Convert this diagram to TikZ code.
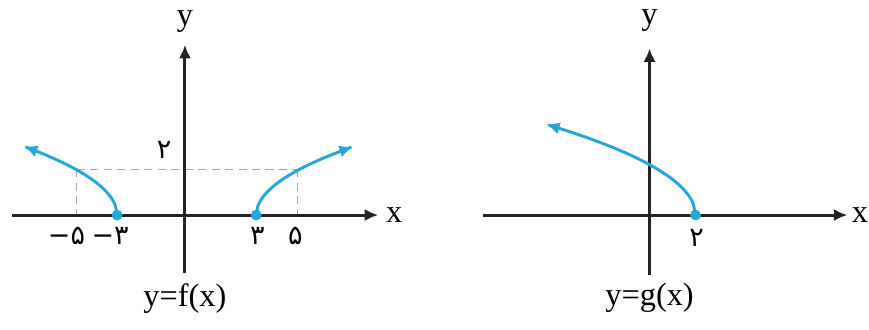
\documentclass[tikz,border=0pt]{standalone}
\usepackage{fontspec}
\setmainfont{Liberation Serif}
\newfontfamily\farsi[Script=Arabic]{DejaVu Sans}
\TeXXeTstate=1
\usepackage{xcolor}
\usepackage{tikz}
\usetikzlibrary{arrows.meta}
\usetikzlibrary{calc}
\definecolor{curvecyan}{RGB}{38,168,214}
\definecolor{axisgray}{RGB}{35,35,35}

\begin{document}
\begin{tikzpicture}[x=0.3cm, y=0.3cm, font=\fontsize{12}{14}\selectfont,
  axis/.style={draw=axisgray, line width=1.1pt, -{Latex[length=5pt, width=4.5pt]}},
  graph/.style={draw=curvecyan, line width=1.1pt, -{Latex[length=5pt, width=4.5pt]}},
  guide/.style={draw=gray!70, line width=0.4pt, dash pattern=on 3pt off 2pt},
  dot/.style={circle, fill=curvecyan, inner sep=0pt, minimum size=4pt},
  num/.style={font=\farsi\fontsize{10}{12}\selectfont, inner sep=1pt}]
\useasboundingbox (-8.04,-4.96) rectangle (29.74,9.35);

\coordinate (fxl) at (-7.5,0);
\coordinate (fxr) at (8.4,0);
\coordinate (fyb) at (0,-2.5);
\coordinate (fyt) at (0,7.4);
\coordinate (fp) at (-4.7,2);
\coordinate (fq) at (4.9,2);
\draw[guide] (fp) -- (fq);
\draw[guide] (fp) -- (fp |- fxl);
\draw[guide] (fq) -- (fq |- fxl);
\draw[axis] (fxl) -- (fxr);
\draw[axis] (fyb) -- (fyt);
\draw[graph] plot[domain=2.95:7, samples=60, smooth] ({-\x},{sqrt(max(0,2.2*(\x-2.95)))});
\draw[graph] plot[domain=3.1:7.3, samples=60, smooth] ({\x},{sqrt(max(0,2.1*(\x-3.1)))});
\node[dot] (fa) at (-2.95,0) {};
\node[dot] (fb) at (3.1,0) {};
\node (fx) at (9.1,0) {x};
\node (fy) at (0,8.4) {y};
\node[num] (ftwo) at (-0.9,2.85) {\beginR ۲\endR};
\node[num] (fm5) at (-5.15,-0.9) {−\beginR ۵\endR};
\node[num] (fm3) at (-3.25,-0.9) {−\beginR ۳\endR};
\node[num] (fp3) at (3.15,-0.9) {\beginR ۳\endR};
\node[num] (fp5) at (4.8,-0.9) {\beginR ۵\endR};
\node (fname) at (0,-3.65) {y=f(x)};

\begin{scope}[shift={(20.2,0)}]
\coordinate (gxl) at (-7.25,0);
\coordinate (gxr) at (8.6,0);
\coordinate (gyb) at (0,-2.6);
\coordinate (gyt) at (0,7.25);
\draw[axis] (gxl) -- (gxr);
\draw[axis] (gyb) -- (gyt);
\draw[graph] plot[domain=0:6.5, samples=60, smooth] ({2-\x},{sqrt(max(0,2.4*\x))});
\node[dot] (ga) at (2,0) {};
\node[inner sep=0pt] (gx) at (9.15,0) {x};
\node (gy) at (0,8.45) {y};
\node[num] (gtwo) at (2.05,-1.0) {\beginR ۲\endR};
\node (gname) at (0,-3.6) {y=g(x)};
\end{scope}
\end{tikzpicture}
\end{document}
